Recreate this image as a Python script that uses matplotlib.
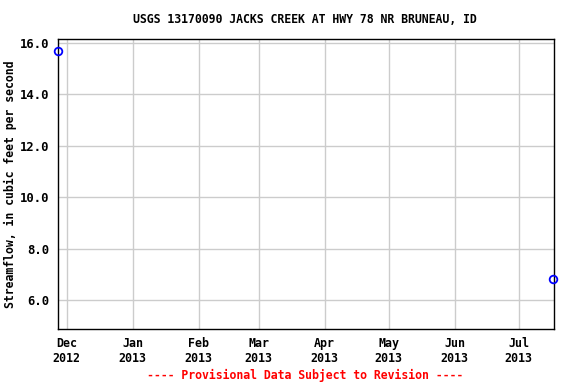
import matplotlib
matplotlib.use("Agg")
import matplotlib.pyplot as plt
from datetime import datetime

# data
dates = [datetime(2012, 11, 27), datetime(2013, 7, 17)]
flows = [15.7, 6.82]

tick_dates = [datetime(2012, 12, 1), datetime(2013, 1, 1), datetime(2013, 2, 1),
              datetime(2013, 3, 1), datetime(2013, 4, 1), datetime(2013, 5, 1),
              datetime(2013, 6, 1), datetime(2013, 7, 1)]
tick_labels = ["Dec\n2012", "Jan\n2013", "Feb\n2013", "Mar\n2013",
               "Apr\n2013", "May\n2013", "Jun\n2013", "Jul\n2013"]
y_ticks = [6, 8, 10, 12, 14, 16]

plt.rcParams['font.family'] = ['DejaVu Sans Mono']
plt.rcParams['font.weight'] = 'bold'

fig = plt.figure(figsize=(5.76, 3.84), dpi=100)
ax = fig.add_axes([0.1007, 0.1432, 0.8611, 0.7552])

ax.plot(dates, flows, linestyle='none', marker='o', markersize=5.5,
        markerfacecolor='none', markeredgecolor='#0000ff', markeredgewidth=1.3,
        clip_on=False, zorder=3)

ax.set_xlim(datetime(2012, 11, 27), datetime(2013, 7, 17, 12))
ax.set_ylim(4.87, 16.16)
ax.set_xticks(tick_dates)
ax.set_xticklabels(tick_labels, fontsize=8.4, fontweight='bold')
ax.set_yticks(y_ticks)
ax.set_yticklabels([f"{v:.1f}" for v in y_ticks], fontsize=8.8, fontweight='bold')
ax.tick_params(length=0, pad=6)
ax.grid(True, color='#cccccc', linewidth=1)
ax.set_axisbelow(True)
for s in ax.spines.values():
    s.set_linewidth(1)

ax.set_ylabel("Streamflow, in cubic feet per second", fontsize=8.3, fontweight='bold')
ax.yaxis.set_label_coords(-0.082, 0.5)
fig.text(0.53, 0.948, "USGS 13170090 JACKS CREEK AT HWY 78 NR BRUNEAU, ID",
         ha='center', va='center', fontsize=8.3, fontweight='bold')
fig.text(0.53, 0.023, "---- Provisional Data Subject to Revision ----",
         ha='center', va='center', fontsize=8.3, fontweight='bold', color='red')

fig.savefig("out.png", dpi=100)
